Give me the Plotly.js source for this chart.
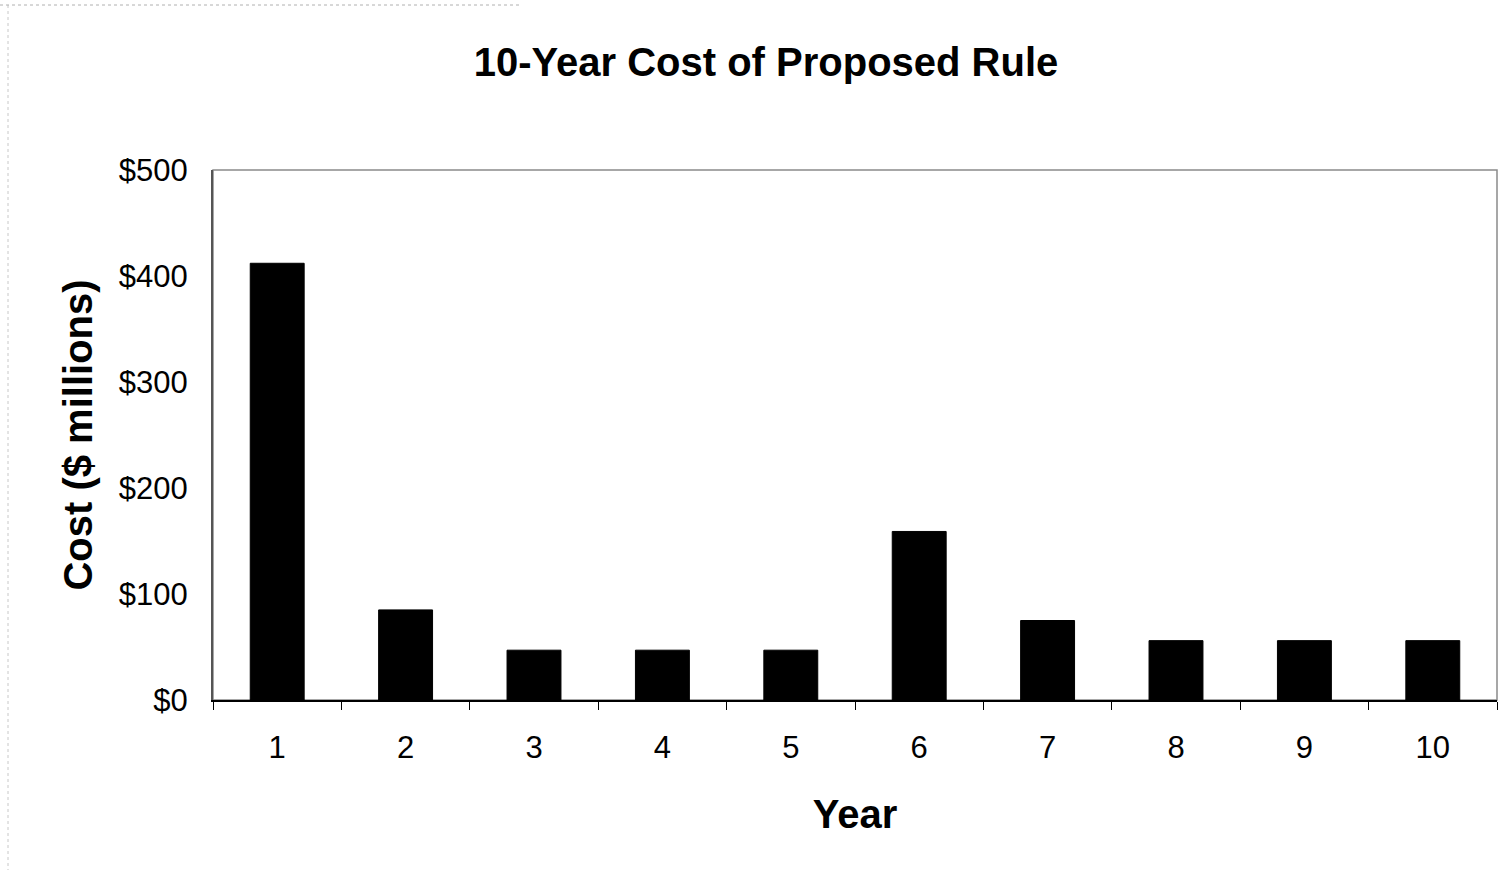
<!DOCTYPE html>
<html>
<head>
<meta charset="utf-8">
<script src="https://cdn.plot.ly/plotly-3.0.1.min.js"></script>
<style>
  html, body { margin: 0; padding: 0; background: #fff; }
  #chart { width: 1505px; height: 873px; }
</style>
</head>
<body>
<div id="chart"></div>
<script>
const years = ['1', '2', '3', '4', '5', '6', '7', '8', '9', '10'];
const costs = [412, 85, 47, 47, 47, 159, 75, 56, 56, 56];
const yTickVals = [0, 100, 200, 300, 400, 500];
const yTickText = ['$0', '$100', '$200', '$300', '$400', '$500'];

const FONT = 'Arial, "Liberation Sans", Helvetica, sans-serif';

const trace = {
  type: 'bar',
  x: years,
  y: costs,
  marker: { color: '#000000', line: { color: '#000000', width: 1 } },
  hoverinfo: 'x+y'
};

const layout = {
  width: 1505,
  height: 873,
  margin: { l: 213, r: 8, t: 170, b: 173 },
  paper_bgcolor: '#ffffff',
  plot_bgcolor: '#ffffff',
  showlegend: false,
  bargap: 0.58,
  font: { family: FONT, color: '#000000' },
  title: {
    text: '<b>10-Year Cost of Proposed Rule</b>',
    font: { family: FONT, size: 40, color: '#000000' },
    xref: 'container', yref: 'container',
    x: 766 / 1505, y: 1 - 62 / 873,
    xanchor: 'center', yanchor: 'middle'
  },
  xaxis: {
    type: 'category',
    tickson: 'boundaries',
    ticks: 'outside',
    ticklen: 8,
    tickcolor: '#000000',
    tickwidth: 1,
    showline: true,
    linecolor: '#000000',
    linewidth: 2,
    showgrid: false,
    zeroline: false,
    tickfont: { family: FONT, size: 31, color: '#000000' },
    ticklabelstandoff: 19,
    title: {
      text: '<b>Year</b>',
      font: { family: FONT, size: 40, color: '#000000' },
      standoff: 36
    }
  },
  yaxis: {
    range: [0, 500],
    tickvals: yTickVals,
    ticktext: yTickText,
    ticks: '',
    showline: true,
    linecolor: '#555555',
    linewidth: 2,
    showgrid: false,
    zeroline: false,
    tickfont: { family: FONT, size: 31, color: '#000000' },
    ticklabelstandoff: 17,
    title: {
      text: '<b>Cost ($ millions)</b>',
      font: { family: FONT, size: 40, color: '#000000' },
      standoff: 14
    }
  },
  shapes: [
    { type: 'rect', xref: 'paper', yref: 'paper', x0: 0, x1: 1, y0: 0, y1: 1,
      line: { color: '#8a8a8a', width: 1.5 }, layer: 'below' },
    { type: 'line', xref: 'paper', yref: 'paper',
      x0: (8 - 213) / 1284, x1: (8 - 213) / 1284, y0: 1 + 165 / 530, y1: -170 / 530,
      line: { color: '#c8c8c8', width: 1, dash: 'dot' } },
    { type: 'line', xref: 'paper', yref: 'paper',
      x0: -213 / 1284, x1: (520 - 213) / 1284, y0: 1 + 165 / 530, y1: 1 + 165 / 530,
      line: { color: '#b0b0b0', width: 1, dash: 'dot' } }
  ]
};

Plotly.newPlot('chart', [trace], layout, { displayModeBar: false, staticPlot: true });
</script>
</body>
</html>
